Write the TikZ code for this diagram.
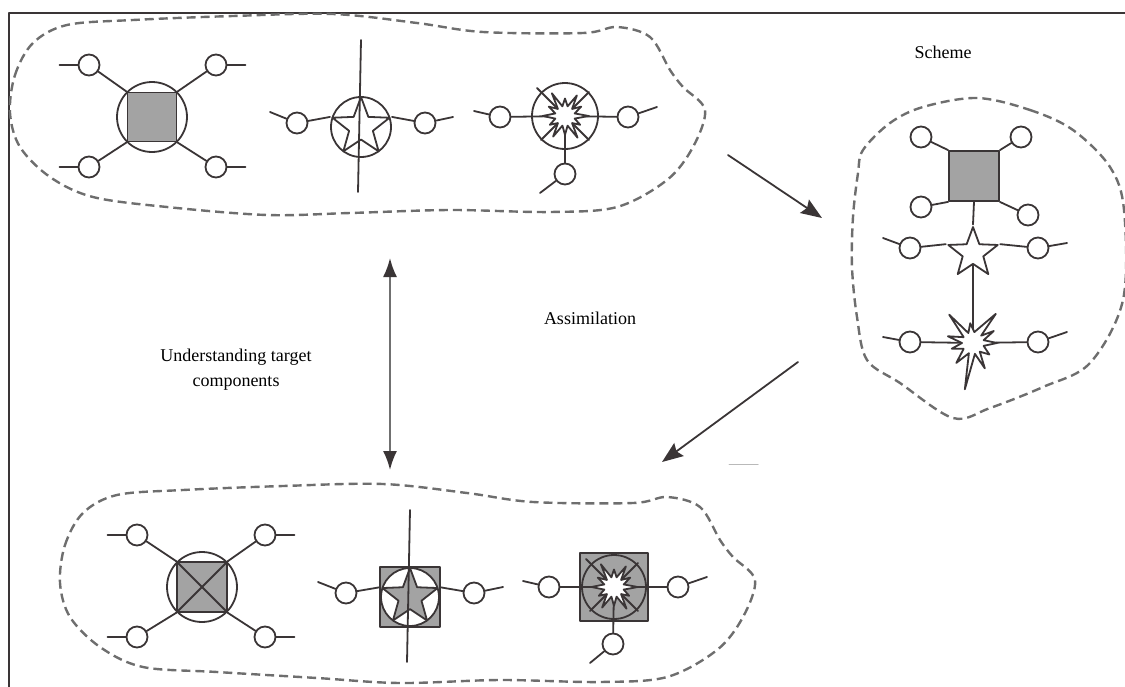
\documentclass[tikz,border=0pt]{standalone}
\usepackage{fontspec}
\setmainfont{Liberation Serif}
\usetikzlibrary{shapes.geometric,arrows.meta,calc}
\definecolor{ink}{HTML}{3A3536}
\definecolor{fillg}{HTML}{A3A3A3}
\definecolor{dashg}{HTML}{6E6E6E}
\definecolor{shaft}{HTML}{707070}
\newcommand\burstA[2]{%
 \filldraw[ln,fill=white,shift={(#1)},scale=#2] (0:19) -- (15:8) -- (30:14) -- (45:8) -- (60:20) -- (75:8) -- (90:15) -- (105:8) -- (120:19) -- (135:8) -- (150:14) -- (165:8) -- (180:18) -- (195:8) -- (210:15) -- (225:8) -- (240:21) -- (255:8) -- (270:14) -- (285:8) -- (300:19) -- (315:8) -- (330:15) -- (345:8) -- cycle;}
\begin{document}
\begin{tikzpicture}[x=1pt,y=-1pt,line join=round,line cap=round,
  ln/.style={draw=ink,line width=1.8pt},
  sc/.style={circle,draw=ink,line width=1.8pt,fill=white,minimum size=21pt,inner sep=0pt},
  ring/.style={circle,draw=ink,line width=1.8pt,inner sep=0pt},
  sqr/.style={rectangle,draw=ink,line width=1.8pt,fill=fillg,inner sep=0pt},
  strs/.style={star,star points=5,star point ratio=2.4,draw=ink,line width=1.8pt,inner sep=0pt},
  blob/.style={draw=dashg,line width=2.4pt,line cap=butt,dash pattern=on 9pt off 5pt},
  arr/.style={draw=ink,line width=1.8pt,-{Stealth[length=21pt,width=16pt,inset=3pt]}},
  dbl/.style={draw=shaft,line width=1.9pt,{Latex[length=19pt,width=14pt,color=ink]}-{Latex[length=19pt,width=14pt,color=ink]}},
  lbl/.style={font=\fontsize{18}{25}\selectfont,text=black,align=center,inner sep=0pt}
]
\useasboundingbox (0,0) rectangle (1125,686);
% frame
\draw[draw=ink,line width=2.2pt,line cap=butt] (9,690) -- (9,13) -- (1130,13);

% ---------- blobs ----------
\draw[blob] plot[smooth cycle,tension=0.55] coordinates {(10,113) (15,75) (33,43) (67,25) (133,20) (233,16) (333,14) (417,23) (483,32) (583,33) (617,27) (650,37) (670,70) (683,87) (705,110) (693,147) (667,180) (617,207) (550,212) (450,210) (350,213) (267,215) (167,207) (93,197) (50,177) (20,147)};
\begin{scope}[shift={(50,470)}]
\draw[blob] plot[smooth cycle,tension=0.55] coordinates {(10,113) (15,75) (33,43) (67,25) (133,20) (233,16) (333,14) (417,23) (483,32) (583,33) (617,27) (650,37) (670,70) (683,87) (705,110) (693,147) (667,180) (617,207) (550,212) (450,210) (350,213) (267,208) (167,202) (93,197) (50,177) (20,147)};
\end{scope}
\draw[blob] plot[smooth cycle,tension=0.55] coordinates {(977,98) (1030,110) (1073,130) (1110,167) (1124,210) (1123,300) (1090,363) (1043,387) (990,408) (953,418) (900,383) (867,360) (857,317) (852,267) (853,217) (858,173) (863,150) (890,123) (923,107)};

% ---------- molecule A ----------
\node[ring,minimum size=70pt] (Ac) at (152,117) {};
\node[sqr,minimum size=49pt] (As) at (152,117) {};
\node[sc] (a1) at (89,65) {};
\node[sc] (a2) at (216,65) {};
\node[sc] (a3) at (89,167) {};
\node[sc] (a4) at (216,167) {};
\draw[ln] (As.north west) -- (a1);
\draw[ln] (As.north east) -- (a2);
\draw[ln] (As.south west) -- (a3);
\draw[ln] (As.south east) -- (a4);
\draw[ln] (a1.west) -- ++(-18,0);
\draw[ln] (a3.west) -- ++(-18,0);
\draw[ln] (a2.east) -- ++(18,0);
\draw[ln] (a4.east) -- ++(18,0);

% ---------- molecule B ----------
\coordinate (bt) at (361,40);
\coordinate (bb) at (358,192);
\node[ring,minimum size=60pt] (Bc) at (361,127) {};
\node[strs,minimum size=60pt] (Bs) at (361,127) {};
\draw[ln] (bt) -- (bb);
\node[sc] (b1) at (297,123) {};
\node[sc] (b2) at (425,123) {};
\coordinate (b1t) at (270,112);
\coordinate (b2t) at (453,117);
\draw[ln] (b1) -- (Bs.outer point 2);
\draw[ln] (b2) -- (Bs.outer point 5);
\draw[ln] (b1t) -- (b1);
\draw[ln] (b2) -- (b2t);

% ---------- molecule C ----------
\coordinate (C) at (565,116);
\node[sc] (c1) at (500,117) {};
\node[sc] (c2) at (628,117) {};
\node[sc] (c3) at (565,174) {};
\coordinate (c1t) at (474,111);
\coordinate (c2t) at (657,107);
\coordinate (c3t) at (540,193);
\draw[ln] (C) -- (537,88);
\draw[ln] (C) -- (589,92);
\draw[ln] (C) -- (541,140);
\draw[ln] (C) -- (589,140);
\draw[ln] (c1) -- (C) -- (c2);
\draw[ln] (C) -- (c3);
\draw[ln] (c1t) -- (c1);
\draw[ln] (c2) -- (c2t);
\draw[ln] (c3) -- (c3t);
\burstA{565,116}{1.25}
\node[ring,minimum size=66pt] (Cc) at (C) {};

% ---------- Scheme ----------
\node[sqr,minimum size=50pt] (Ss) at (974,176) {};
\node[sc] (s1) at (921,137) {};
\node[sc] (s2) at (1021,137) {};
\node[sc] (s3) at (921,207) {};
\node[sc] (s4) at (1028,215) {};
\draw[ln] (Ss.north west) -- (s1);
\draw[ln] (Ss.north east) -- (s2);
\draw[ln] (Ss.south west) -- (s3);
\draw[ln] (Ss.south east) -- (s4);
\node[strs,minimum size=52pt,fill=white] (St) at (973,253) {};
\draw[ln] (Ss.south) -- (St.outer point 1);
\node[sc] (s5) at (910,248) {};
\node[sc] (s6) at (1038,248) {};
\coordinate (s5t) at (883,238);
\coordinate (s6t) at (1067,243);
\draw[ln] (s5) -- (St.outer point 2);
\draw[ln] (s6) -- (St.outer point 5);
\draw[ln] (s5t) -- (s5);
\draw[ln] (s6) -- (s6t);
\coordinate (SB) at (973,343);
\draw[ln] (St.inner point 3) -- (SB);
\node[sc] (s7) at (910,342) {};
\node[sc] (s8) at (1038,342) {};
\coordinate (s7t) at (883,337);
\coordinate (s8t) at (1067,332);
\draw[ln] (s7) -- (SB) -- (s8);
\draw[ln] (s7t) -- (s7);
\draw[ln] (s8) -- (s8t);
\filldraw[ln,fill=white,shift={(SB)}] (0:24) -- (15:11) -- (35:20) -- (52:11) -- (65:28) -- (80:11) -- (100:47) -- (112:11) -- (130:26) -- (148:11) -- (165:22) -- (180:11) -- (195:26) -- (212:11) -- (230:37) -- (245:11) -- (262:20) -- (277:11) -- (308:37) -- (318:11) -- (330:24) -- (345:11) -- cycle;

% ---------- molecule D ----------
\node[ring,minimum size=70pt] (Dc) at (202,587) {};
\node[sqr,minimum size=50pt] (Ds) at (202,587) {};
\draw[ln] (Ds.north west) -- (Ds.south east);
\draw[ln] (Ds.north east) -- (Ds.south west);
\node[sc] (d1) at (137,535) {};
\node[sc] (d2) at (265,535) {};
\node[sc] (d3) at (137,637) {};
\node[sc] (d4) at (265,637) {};
\draw[ln] (Ds.north west) -- (d1);
\draw[ln] (Ds.north east) -- (d2);
\draw[ln] (Ds.south west) -- (d3);
\draw[ln] (Ds.south east) -- (d4);
\draw[ln] (d1.west) -- ++(-18,0);
\draw[ln] (d3.west) -- ++(-18,0);
\draw[ln] (d2.east) -- ++(18,0);
\draw[ln] (d4.east) -- ++(18,0);

% ---------- molecule E ----------
\node[sqr,minimum size=60pt] (Es) at (410,597) {};
\node[ring,minimum size=58pt,fill=white] (Ec) at (410,597) {};
\node[strs,minimum size=58pt,fill=fillg] (Est) at (410,597) {};
\coordinate (et) at (410,510);
\coordinate (eb) at (407,662);
\draw[ln] (et) -- (eb);
\node[sc] (e1) at (346,593) {};
\node[sc] (e2) at (474,593) {};
\coordinate (e1t) at (318,582);
\coordinate (e2t) at (503,587);
\draw[ln] (e1) -- (Est.outer point 2);
\draw[ln] (e2) -- (Est.outer point 5);
\draw[ln] (e1t) -- (e1);
\draw[ln] (e2) -- (e2t);

% ---------- molecule F ----------
\node[sqr,minimum size=68pt] (Fs) at (614,587) {};
\coordinate (F) at (614,587);
\node[sc] (f1) at (549,587) {};
\node[sc] (f2) at (678,587) {};
\node[sc] (f3) at (613,644) {};
\coordinate (f1t) at (523,581);
\coordinate (f2t) at (707,577);
\coordinate (f3t) at (590,663);
\draw[ln] (F) -- (586,559);
\draw[ln] (F) -- (638,563);
\draw[ln] (F) -- (590,611);
\draw[ln] (F) -- (638,611);
\draw[ln] (f1) -- (F) -- (f2);
\draw[ln] (F) -- (f3);
\draw[ln] (f1t) -- (f1);
\draw[ln] (f2) -- (f2t);
\draw[ln] (f3) -- (f3t);
\burstA{614,587}{1.25}
\node[ring,minimum size=64pt] (Fc) at (F) {};

% ---------- arrows ----------
\coordinate (a1s) at (728,155);
\coordinate (a1e) at (822,218);
\coordinate (dbs) at (390,258);
\coordinate (dbe) at (390,470);
\coordinate (a2s) at (798,362);
\coordinate (a2e) at (662,462);
\draw[arr] (a1s) -- (a1e);
\draw[dbl] (dbs) -- (dbe);
\draw[arr] (a2s) -- (a2e);
\coordinate (m1) at (729,464);
\coordinate (m2) at (758,464);
\draw[draw=gray!55,line width=1pt] (m1) -- (m2);

% ---------- labels ----------
\node[lbl] (lscheme) at (943,52) {Scheme};
\node[lbl] (lassim) at (590,318) {Assimilation};
\node[lbl] (lund) at (236,370) {Understanding target\\components};
\end{tikzpicture}
\end{document}
